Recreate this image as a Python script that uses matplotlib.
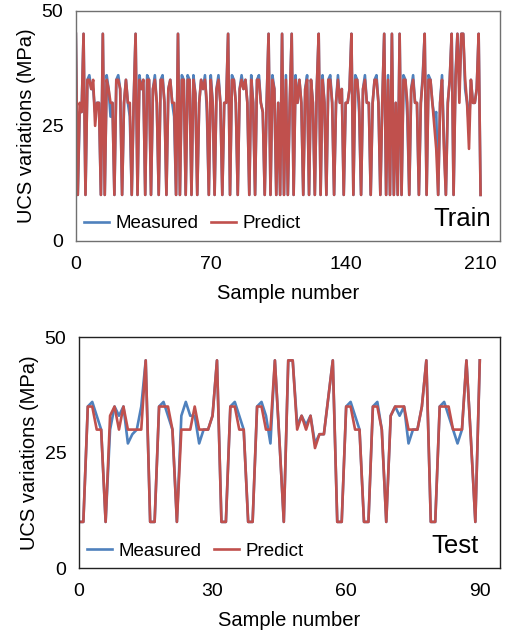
import matplotlib.pyplot as plt
import numpy as np

plt.rcParams['font.family'] = ['Liberation Sans', 'DejaVu Sans']

# training set (samples 0..210), UCS in MPa
train_predict = [
    45, 10, 30, 28, 45, 10, 35, 35, 33, 35,
    25, 30, 30, 10, 45, 10, 35, 33, 30, 30,
    10, 35, 35, 33, 10, 30, 35, 30, 30, 10,
    30, 45, 10, 35, 33, 35, 10, 35, 35, 10,
    33, 35, 30, 10, 35, 35, 30, 10, 33, 35,
    30, 30, 10, 45, 10, 35, 35, 10, 35, 35,
    10, 35, 32, 10, 30, 35, 33, 35, 30, 10,
    35, 30, 10, 33, 35, 30, 10, 30, 30, 45,
    10, 35, 35, 30, 10, 33, 35, 33, 35, 30,
    10, 35, 30, 10, 35, 35, 30, 28, 10, 30,
    45, 10, 35, 33, 10, 30, 10, 45, 10, 35,
    10, 30, 45, 10, 35, 30, 35, 30, 10, 33,
    35, 10, 35, 30, 10, 33, 45, 10, 35, 30,
    10, 35, 35, 30, 10, 30, 35, 30, 33, 10,
    30, 30, 33, 45, 10, 35, 35, 30, 10, 33,
    35, 30, 30, 10, 30, 35, 35, 30, 10, 30,
    45, 10, 35, 10, 45, 10, 30, 10, 45, 10,
    35, 35, 30, 10, 33, 35, 30, 30, 10, 30,
    35, 45, 10, 35, 35, 30, 25, 20, 10, 30,
    35, 20, 10, 30, 35, 45, 10, 35, 45, 30,
    45, 45, 35, 30, 20, 35, 30, 30, 33, 45,
    10,
]
train_measured = [
    45, 10, 28, 28, 45, 10, 35, 36, 33, 33,
    28, 30, 30, 10, 45, 10, 36, 33, 27, 30,
    10, 35, 36, 33, 10, 30, 35, 30, 27, 10,
    30, 45, 10, 36, 33, 35, 10, 36, 35, 10,
    33, 36, 30, 10, 35, 36, 30, 10, 33, 35,
    30, 27, 10, 45, 10, 36, 35, 10, 36, 35,
    10, 36, 32, 10, 30, 35, 33, 36, 28, 10,
    36, 30, 10, 33, 36, 30, 10, 30, 30, 45,
    10, 36, 35, 30, 10, 33, 36, 33, 35, 30,
    10, 36, 30, 10, 35, 36, 30, 28, 10, 30,
    45, 10, 36, 33, 10, 30, 10, 45, 10, 36,
    10, 30, 45, 10, 36, 30, 35, 30, 10, 33,
    36, 10, 35, 30, 10, 33, 45, 10, 36, 30,
    10, 35, 36, 30, 10, 30, 36, 30, 33, 10,
    30, 30, 33, 45, 10, 36, 35, 28, 10, 33,
    36, 30, 30, 10, 30, 35, 36, 30, 10, 30,
    45, 10, 36, 10, 45, 10, 30, 10, 45, 10,
    36, 35, 27, 10, 33, 36, 30, 30, 10, 30,
    36, 45, 10, 36, 35, 30, 27, 28, 10, 30,
    36, 22, 10, 30, 35, 45, 10, 36, 45, 33,
    45, 45, 33, 30, 25, 35, 30, 30, 33, 45,
    10,
]

# test set (samples 0..90)
test_predict = [
    10, 10, 35, 35, 30, 30, 10, 33, 35, 30,
    35, 30, 30, 30, 30, 45, 10, 10, 35, 35,
    35, 30, 10, 30, 30, 30, 35, 30, 30, 30,
    33, 45, 10, 10, 35, 35, 30, 30, 10, 10,
    35, 35, 30, 30, 45, 28, 10, 45, 45, 30,
    33, 30, 33, 26, 29, 29, 37, 45, 10, 10,
    35, 35, 30, 30, 10, 10, 35, 35, 30, 10,
    33, 35, 35, 35, 30, 30, 30, 35, 45, 10,
    10, 35, 35, 35, 30, 30, 30, 45, 28, 10,
    45,
]
test_measured = [
    10, 10, 35, 36, 33, 30, 10, 30, 35, 33,
    35, 27, 29, 30, 35, 45, 10, 10, 35, 36,
    33, 30, 10, 33, 36, 33, 33, 27, 30, 30,
    33, 45, 10, 10, 35, 36, 33, 30, 10, 10,
    35, 36, 33, 27, 45, 28, 10, 45, 45, 31,
    33, 31, 33, 27, 29, 29, 37, 45, 10, 10,
    35, 36, 33, 30, 10, 10, 35, 36, 30, 10,
    33, 35, 33, 35, 27, 30, 30, 35, 45, 10,
    10, 35, 36, 33, 30, 27, 30, 45, 28, 10,
    45,
]

train_ticks = [0, 70, 140, 210]
test_ticks = [0, 30, 60, 90]

blue = '#4F81BD'
red = '#C0504D'

fig = plt.figure(figsize=(5.09, 6.34), dpi=100)
ax1 = fig.add_axes([0.149, 0.620, 0.833, 0.363])
ax2 = fig.add_axes([0.155, 0.104, 0.827, 0.364])


def style(ax, xs_meas, xs_pred, xmax, ticks, tag, tag_x, edge):
    x = np.arange(len(xs_meas))
    ax.plot(x, xs_meas, color=blue, lw=1.9, label='Measured')
    ax.plot(np.arange(len(xs_pred)), xs_pred, color=red, lw=1.9, label='Predict')
    ax.set_xlim(0, xmax)
    ax.set_ylim(0, 50)
    ax.set_xticks(ticks)
    ax.set_yticks([0, 25, 50])
    ax.tick_params(length=0, labelsize=14)
    ax.tick_params(axis='x', pad=11)
    ax.tick_params(axis='y', pad=9)
    for s in ax.spines.values():
        s.set_color(edge)
        s.set_linewidth(1.0)
    ax.set_xlabel('Sample number', fontsize=14.5, labelpad=8)
    ax.set_ylabel('UCS variations (MPa)', fontsize=14.5, labelpad=4)
    ax.legend(loc='lower left', ncol=2, frameon=False, fontsize=13.5,
              handlelength=1.3, handletextpad=0.35, columnspacing=0.7,
              borderaxespad=0.15, borderpad=0.3)
    ax.text(tag_x, 0.045, tag, transform=ax.transAxes, ha='right', va='bottom',
            fontsize=18.5)


style(ax1, train_measured, train_predict, 220, train_ticks, 'Train', 0.978, '#707070')
style(ax2, test_measured, test_predict, 94.5, test_ticks, 'Test', 0.95, '#222222')

fig.savefig('out.png', dpi=100)
